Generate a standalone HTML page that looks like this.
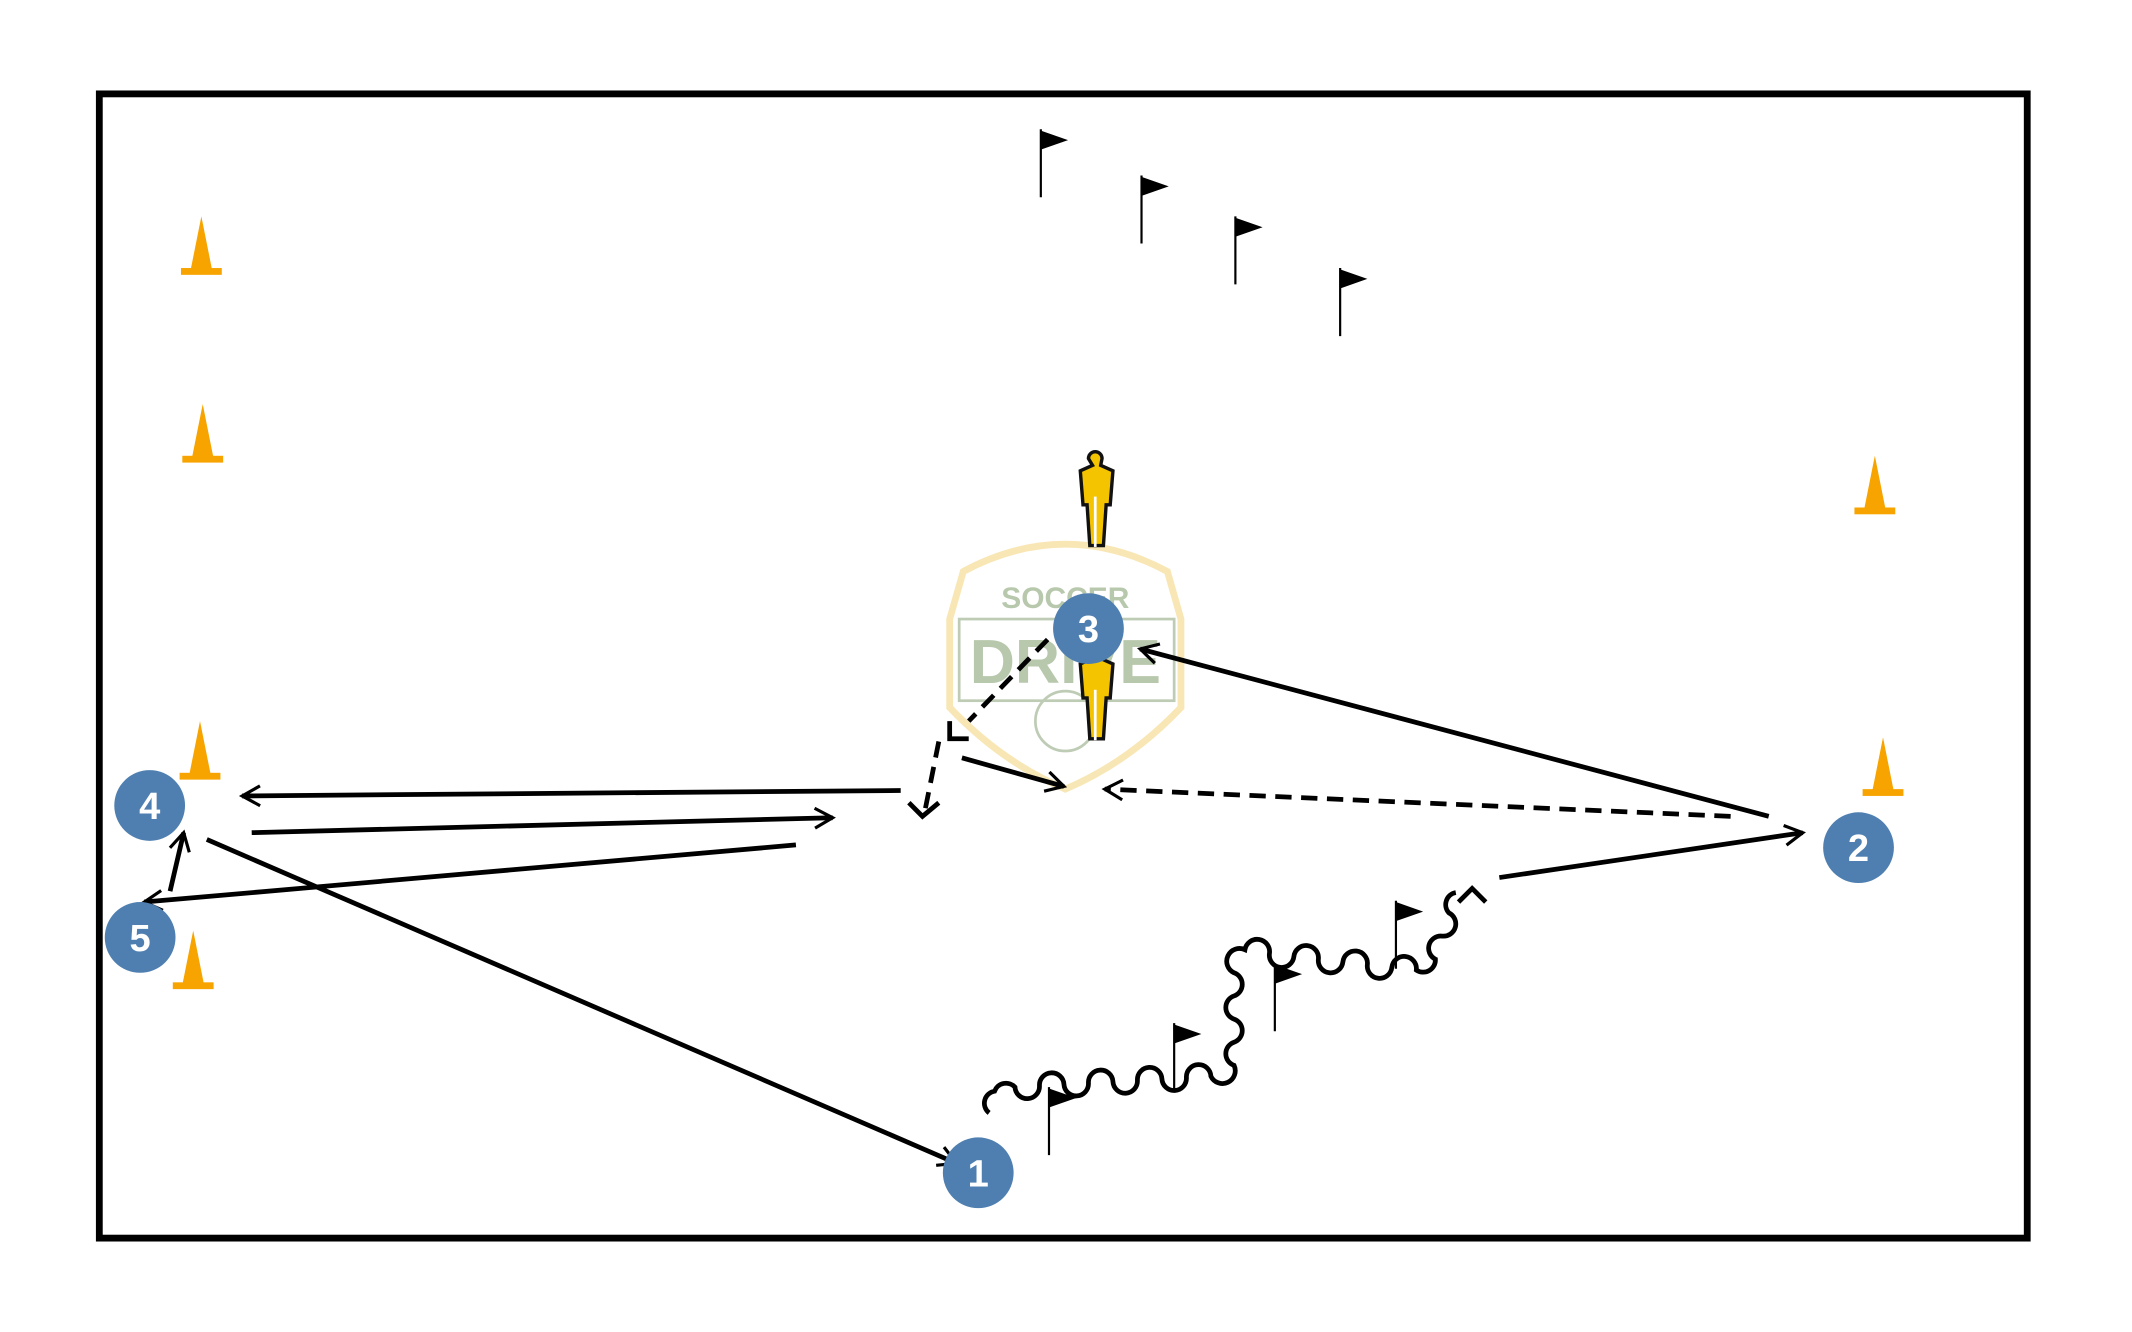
<!DOCTYPE html>
<html><head><meta charset="utf-8"><style>
html,body{margin:0;padding:0;background:#fff;}
svg{display:block;}
</style></head><body>
<svg width="2132" height="1332" viewBox="0 0 1567 979" xmlns="http://www.w3.org/2000/svg">
<defs>
<marker id="ah" viewBox="0 0 12 12" refX="10" refY="6" markerWidth="5" markerHeight="5" orient="auto" markerUnits="strokeWidth">
<path d="M1 1 L10 6 L1 11" fill="none" stroke="#000" stroke-width="1.6"/>
</marker>
<g id="cone"><path d="M-8 -2 L0 -42 L8 -2 Z" fill="#f7a300"/><rect x="-15" y="-4" width="30" height="5" fill="#f7a300"/></g>
<g id="flag"><line x1="0" y1="0" x2="0" y2="50" stroke="#000" stroke-width="1.6"/><path d="M0 1 L20 8 L0 15 Z" fill="#000"/></g>
<g id="man"><path d="M-5 -33 a5 5 0 1 1 10 0 l-1 5 l9 4 l-2 25 l-3 0 l-2 30 l-10 0 l-2 -30 l-3 0 l-2 -25 l9 -4z" fill="#f5c400" stroke="#111" stroke-width="2.5"/><line x1="0" y1="-5" x2="0" y2="32" stroke="#fff" stroke-width="2"/></g>
</defs>
<rect x="73" y="69" width="1417" height="841" fill="#fff" stroke="#000" stroke-width="5"/>
<g opacity="0.55">
<path d="M708 420 Q783 380 858 420 L868 455 L868 520 Q830 560 783 580 Q736 560 698 520 L698 455 Z" fill="none" stroke="#f3d37a" stroke-width="5"/>
<rect x="705" y="455" width="158" height="60" fill="none" stroke="#8aa27a" stroke-width="2"/>
<text x="783" y="447" text-anchor="middle" font-family="Liberation Sans,sans-serif" font-weight="bold" font-size="22" fill="#7e9c6a">SOCCER</text>
<text x="783" y="502" text-anchor="middle" font-family="Liberation Sans,sans-serif" font-weight="bold" font-size="46" fill="#7e9c6a">DRIVE</text>
<circle cx="783" cy="530" r="22" fill="none" stroke="#8aa27a" stroke-width="2"/>
</g>
<use href="#cone" x="148" y="201"/><use href="#cone" x="149" y="339"/><use href="#cone" x="147" y="572"/><use href="#cone" x="142" y="726"/><use href="#cone" x="1378" y="377"/><use href="#cone" x="1384" y="584"/>
<use href="#flag" x="765" y="95"/><use href="#flag" x="839" y="129"/><use href="#flag" x="908" y="159"/><use href="#flag" x="985" y="197"/><use href="#flag" x="1026" y="662"/><use href="#flag" x="937" y="708"/><use href="#flag" x="863" y="752"/><use href="#flag" x="771" y="799"/>
<use href="#man" x="805" y="370"/><use href="#man" x="805" y="512"/>
<g stroke="#000" stroke-width="3.5" fill="none" marker-end="url(#ah)">
<line x1="152" y1="617" x2="703" y2="855"/>
<line x1="1300" y1="600" x2="838" y2="477"/>
<line x1="1102" y1="645" x2="1325" y2="612"/>
<line x1="1272" y1="600" x2="812" y2="580" stroke-dasharray="12 7"/>
<line x1="662" y1="581" x2="178" y2="585"/>
<line x1="185" y1="612" x2="612" y2="601"/>
<line x1="585" y1="621" x2="106" y2="663"/>
<line x1="125" y1="655" x2="135" y2="612"/>
<line x1="707" y1="557" x2="782" y2="578"/>
</g>
<g stroke="#000" stroke-width="3.5" fill="none" stroke-dasharray="12 7">
<line x1="770" y1="470" x2="712" y2="530"/>
<path d="M698 530 L698 543 L712 543" stroke-dasharray="none"/>
<line x1="690" y1="545" x2="680" y2="595"/>
<path d="M668 590 L678 600 L690 590" stroke-dasharray="none"/>
<path d="M1072 663 L1082 653 L1092 663" stroke-dasharray="none"/>
</g>
<path fill="none" stroke="#000" stroke-width="3.5" d="M727 818 a9 9 0 0 1 4 -16 a9 9 0 0 1 15 -3 a9 9 0 0 0 18 -1 a9 9 0 0 1 18 -1 a9 9 0 0 0 18 -1 a9 9 0 0 1 18 -1 a9 9 0 0 0 18 -1 a9 9 0 0 1 18 -1 a9 9 0 0 0 18 -1 a9 9 0 0 1 18 -1 a9 9 0 0 0 17 -8 a9 9 0 0 1 0 -17 a9 9 0 0 0 0 -17 a9 9 0 0 1 0 -17 a9 9 0 0 0 0 -17 a9 9 0 0 1 8 -17 a9 9 0 0 1 18 3 a9 9 0 0 0 18 2 a9 9 0 0 1 18 2 a9 9 0 0 0 18 2 a9 9 0 0 1 18 2 a9 9 0 0 0 18 2 a9 9 0 0 1 18 2 a9 9 0 0 0 14 -8 a9 9 0 0 1 5 -17 a9 9 0 0 0 5 -17 a9 9 0 0 1 5 -15"/>
<g font-family="Liberation Sans,sans-serif" font-weight="bold" font-size="28" fill="#fff" text-anchor="middle">
<circle cx="719" cy="862" r="26" fill="#4f7fb0"/><text x="719" y="872">1</text>
<circle cx="1366" cy="623" r="26" fill="#4f7fb0"/><text x="1366" y="633">2</text>
<circle cx="800" cy="462" r="26" fill="#4f7fb0"/><text x="800" y="472">3</text>
<circle cx="110" cy="592" r="26" fill="#4f7fb0"/><text x="110" y="602">4</text>
<circle cx="103" cy="689" r="26" fill="#4f7fb0"/><text x="103" y="699">5</text>
</g>
</svg>
</body></html>
